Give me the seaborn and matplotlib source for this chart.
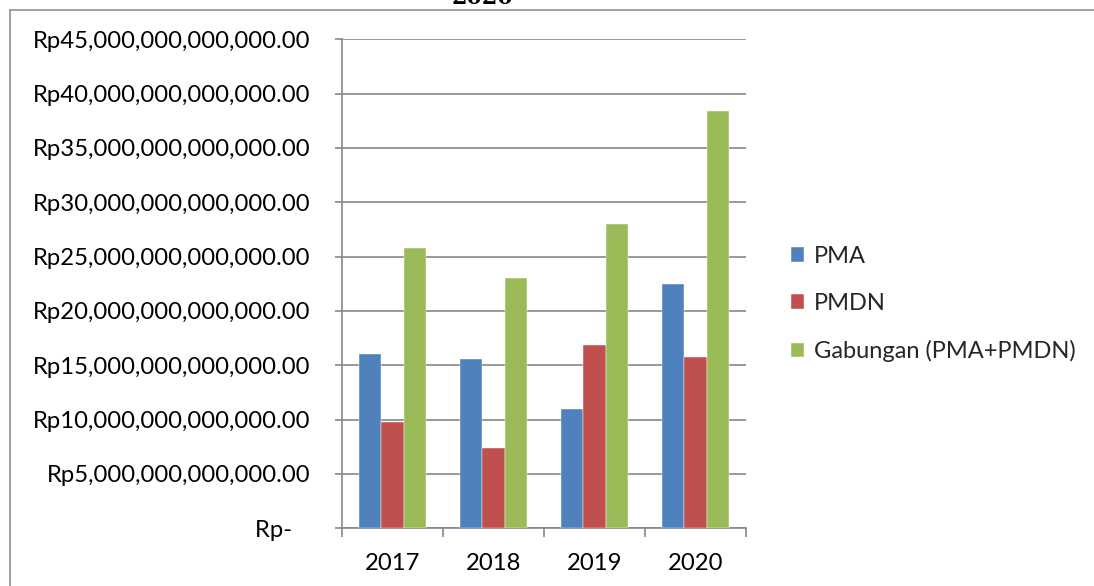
import matplotlib
matplotlib.use("Agg")
import matplotlib.pyplot as plt
from matplotlib.lines import Line2D
from matplotlib.ticker import FuncFormatter, MultipleLocator, FixedLocator
import seaborn as sns
import pandas as pd

# ---- data (Rupiah) ----
years = ["2017", "2018", "2019", "2020"]
series_names = ["PMA", "PMDN", "Gabungan (PMA+PMDN)"]
pma = [16.01e12, 15.58e12, 10.98e12, 22.48e12]
pmdn = [9.75e12, 7.42e12, 16.87e12, 15.79e12]
gabungan = [25.80e12, 23.03e12, 28.00e12, 38.40e12]
colors = ["#4F81BD", "#C0504D", "#9BBB59"]
title_text = "2020"

rows = []
for name, vals in zip(series_names, [pma, pmdn, gabungan]):
    for y, v in zip(years, vals):
        rows.append({"Tahun": y, "Nilai": v, "Jenis": name})
df = pd.DataFrame(rows)

sns.set_theme(style="white")
plt.rcParams["font.family"] = ["Lato", "DejaVu Sans"]

W, H = 1094, 586
fig = plt.figure(figsize=(W / 100, H / 100), dpi=100)
ax = fig.add_axes([342 / W, 1 - 528.3 / H, (746 - 342) / W, (528.3 - 39.3) / H])

sns.barplot(data=df, x="Tahun", y="Nilai", hue="Jenis", hue_order=series_names,
            palette=colors, saturation=1, width=0.664, ax=ax,
            edgecolor="white", linewidth=0.3, legend=True, zorder=3)

grid_c = "#878787"
ax.set_ylim(0, 45e12)
ax.set_xlim(-0.5, 3.5)
ax.yaxis.set_major_locator(MultipleLocator(5e12))
ax.yaxis.set_major_formatter(FuncFormatter(
    lambda v, p: "Rp{:,.2f}".format(v) if v > 0 else "Rp-   "))
ax.grid(axis="y", color=grid_c, linewidth=1.2, zorder=0)
ax.set_axisbelow(True)
for s in ["top", "right"]:
    ax.spines[s].set_visible(False)
for s in ["left", "bottom"]:
    ax.spines[s].set_color(grid_c)
    ax.spines[s].set_linewidth(1.2)

ax.tick_params(axis="y", which="major", length=5, width=1.2, color=grid_c,
               pad=18, labelsize=17.2, labelcolor="black", left=True)
ax.xaxis.set_minor_locator(FixedLocator([-0.5, 0.5, 1.5, 2.5, 3.5]))
ax.tick_params(axis="x", which="minor", length=6.5, width=1.2, color=grid_c,
               bottom=True, direction="out")
ax.tick_params(axis="x", which="major", length=0, pad=18, labelsize=17.2,
               labelcolor="black")
ax.set_xlabel("")
ax.set_ylabel("")

handles, labels = ax.get_legend_handles_labels()
ax.get_legend().remove()
fig.legend(handles, labels, loc="upper left",
           bbox_to_anchor=(782 / W, 1 - 236.5 / H), frameon=False,
           fontsize=17, handlelength=0.55, handleheight=0.55,
           handletextpad=0.42, labelspacing=1.1, borderaxespad=0)

# outer frame of the chart
fc = "#888888"
fig.add_artist(Line2D([9.5 / W, 9.5 / W], [0, 1 - 9.7 / H], transform=fig.transFigure,
                      color=fc, linewidth=1.1))
fig.add_artist(Line2D([9.5 / W, 1], [1 - 9.7 / H, 1 - 9.7 / H], transform=fig.transFigure,
                      color=fc, linewidth=1.1))

# cut-off title peeking at the top (cut off in the reference as well)
fig.text(482 / W, 1 - 3.5 / H, title_text, ha="center", va="baseline",
         fontsize=16, fontweight="bold", family=["DejaVu Serif"], color="black")

fig.savefig("out.png", dpi=100)
